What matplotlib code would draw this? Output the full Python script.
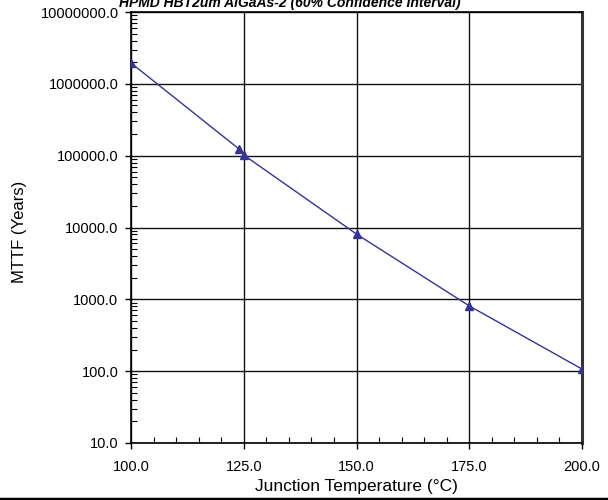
import matplotlib
matplotlib.use("Agg")
import matplotlib.pyplot as plt
from matplotlib.ticker import MultipleLocator, LogLocator, NullFormatter, FuncFormatter
from matplotlib.lines import Line2D

plt.rcParams['font.family'] = ['Liberation Sans', 'DejaVu Sans']

# junction temperature (C) vs median time to failure (years)
temps = [100.0, 124.0, 125.0, 150.0, 175.0, 200.0]
mttf_years = [1.95e6, 1.23e5, 1.02e5, 8.1e3, 8.1e2, 1.07e2]

fig = plt.figure(figsize=(6.08, 5.0), dpi=100)
ax = fig.add_axes([131 / 608, 1 - 443 / 500, (582 - 131) / 608, (443 - 12) / 500])

ax.plot(temps, mttf_years, color='#333399', lw=1.0, marker='^', ms=6,
        markerfacecolor='#333399', markeredgecolor='#333399', zorder=3)

ax.set_yscale('log')
ax.set_xlim(100, 200)
ax.set_ylim(10, 1e7)

ax.xaxis.set_major_locator(MultipleLocator(25))
ax.xaxis.set_minor_locator(MultipleLocator(5))
ax.xaxis.set_major_formatter(FuncFormatter(lambda v, p: f"{v:.1f}"))
ax.yaxis.set_major_locator(LogLocator(base=10, numticks=10))
ax.yaxis.set_minor_locator(LogLocator(base=10, subs=range(2, 10), numticks=20))
ax.yaxis.set_minor_formatter(NullFormatter())
ax.yaxis.set_major_formatter(FuncFormatter(lambda v, p: f"{v:.1f}"))

ax.tick_params(which='major', direction='out', length=4, width=1, labelsize=10.5)
ax.tick_params(axis='x', which='major', pad=8.5)
ax.tick_params(axis='y', which='major', pad=5)
ax.tick_params(which='minor', direction='in', length=4, width=0.8)

ax.grid(True, which='major', color='#111111', lw=1.0)
ax.set_axisbelow(True)

for side in ['left', 'bottom', 'top']:
    ax.spines[side].set_color('black')
    ax.spines[side].set_linewidth(1.2)
ax.spines['right'].set_color('#333333')
ax.spines['right'].set_linewidth(2.2)

ax.set_xlabel('Junction Temperature (°C)', fontsize=12.5)
ax.xaxis.set_label_coords(0.5, -(487 - 443) / 431)
ax.xaxis.label.set_va('center')
ax.set_ylabel('MTTF (Years)', fontsize=12)
ax.yaxis.set_label_coords(-(131 - 20) / 451, (443 - 232) / 431)
ax.yaxis.label.set_va('center')

fig.text(290 / 608, 1 - 7 / 500, 'HPMD HBT2um AlGaAs-2 (60% Confidence Interval)',
         ha='center', va='baseline', fontsize=10, fontweight='bold', fontstyle='italic')

# rule across the foot of the page
fig.add_artist(Line2D([0, 1], [0.003, 0.003], color='black', lw=2.5, transform=fig.transFigure))

fig.savefig('out.png', dpi=100)
